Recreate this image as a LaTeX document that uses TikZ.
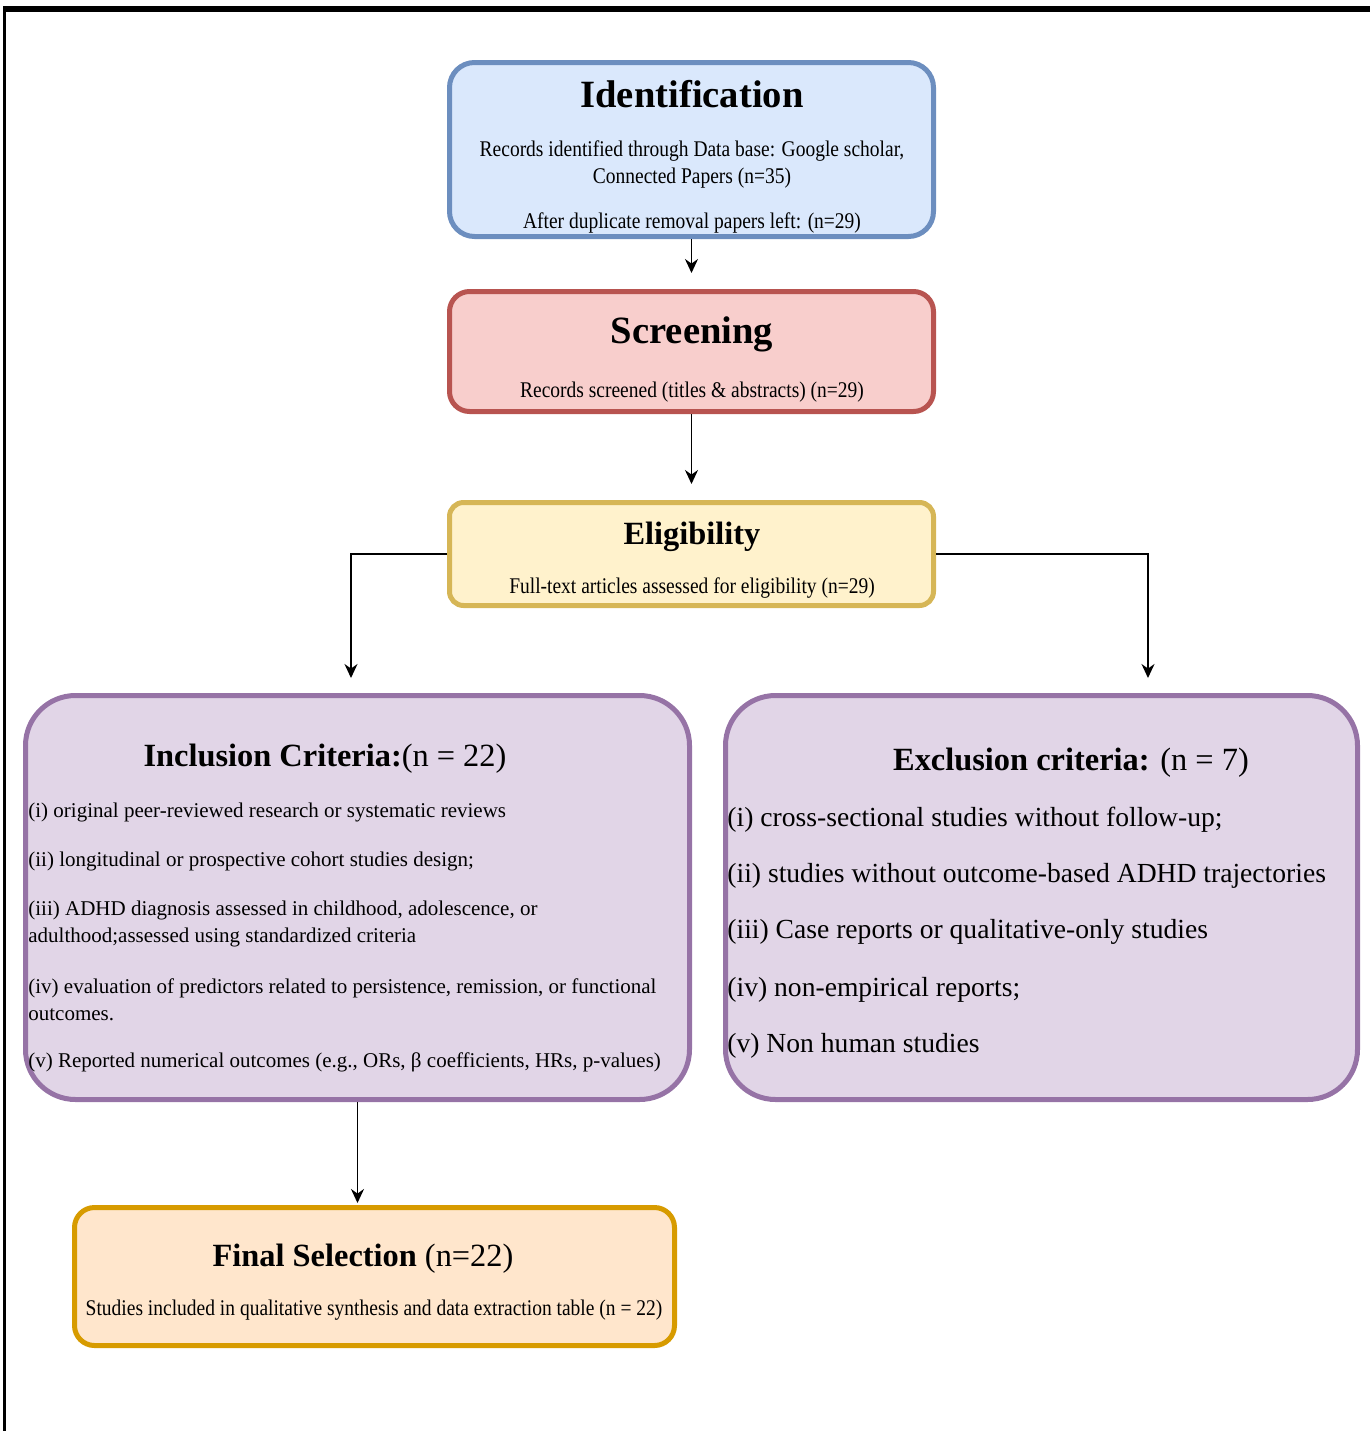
\documentclass[tikz,border=0pt]{standalone}
\usepackage{fontspec}
\setmainfont{Liberation Serif}
\newfontfamily\narrowfont{Liberation Serif}[FakeStretch=0.87]
\usetikzlibrary{arrows.meta,fit}
\definecolor{idfill}{HTML}{DAE8FC}
\definecolor{iddraw}{HTML}{6C8EBF}
\definecolor{scfill}{HTML}{F8CECC}
\definecolor{scdraw}{HTML}{B85450}
\definecolor{elfill}{HTML}{FFF2CC}
\definecolor{eldraw}{HTML}{D6B656}
\definecolor{crfill}{HTML}{E1D5E7}
\definecolor{crdraw}{HTML}{9673A6}
\definecolor{fsfill}{HTML}{FFE6CC}
\definecolor{fsdraw}{HTML}{D79B00}

\begin{document}
\begin{tikzpicture}[x=0.5pt, y=-0.5pt,
  stagebox/.style={draw, line width=2.5pt, inner sep=0pt, rounded corners=#1},
  stagebox/.default=10pt,
  bigtitle/.style={font=\fontsize{19.3}{23}\selectfont\bfseries, inner sep=0pt, yshift=-1.25pt},
  stagetitle/.style={font=\fontsize{16.2}{19}\selectfont, inner sep=0pt, yshift=-1.75pt},
  stagetext/.style={font=\narrowfont\fontsize{11.2}{13.5}\selectfont, inner sep=0pt, yshift=-1pt},
  inclitem/.style={font=\fontsize{10.5}{13.5}\selectfont, align=left, anchor=west, inner sep=0pt, yshift=-1pt},
  exclitem/.style={font=\fontsize{13.8}{16}\selectfont, anchor=west, inner sep=0pt, yshift=-1.5pt},
  arr/.style={-{Stealth[length=7pt,width=6.5pt]}, line width=0.8pt, shorten >=#1},
  arr/.default=0pt]
  \useasboundingbox (0,0) rectangle (1370,1431);
  \draw[line width=3pt] (3,9) -- (1370,9);
  \draw[line width=1.75pt] (4.5,6) -- (4.5,1431);

  \node[stagebox=12.5pt, fill=idfill, draw=iddraw, fit={(449.5,62.5) (933.5,236.5)}] (ident) {};
  \node[bigtitle] (identtitle) at (692,92) {Identification};
  \node[stagetext] (identdb) at (692,149) {Records identified through Data base: Google scholar,};
  \node[stagetext] (identcp) at (692,176) {Connected Papers (n=35)};
  \node[stagetext] (identdup) at (692,221) {After duplicate removal papers left: (n=29)};

  \node[stagebox, fill=scfill, draw=scdraw, fit={(449.5,291.5) (933.5,411.5)}] (screen) {};
  \node[bigtitle] (screentitle) at (692,332) {Screening};
  \node[stagetext] (screentext) at (692,390) {Records screened (titles \& abstracts) (n=29)};

  \node[stagebox=7pt, fill=elfill, draw=eldraw, fit={(449.5,502.5) (933.5,605.5)}] (elig) {};
  \node[stagetitle] (eligtitle) at (692,533) {\bfseries Eligibility};
  \node[stagetext] (eligtext) at (692,586) {Full-text articles assessed for eligibility (n=29)};

  \node[stagebox=25pt, fill=crfill, draw=crdraw, fit={(25.5,695.5) (689.5,1099.5)}] (incl) {};
  \node[stagetitle] (incltitle) at (325,755) {\textbf{Inclusion Criteria:}(n = 22)};
  \node[inclitem] (incl1) at (28,810) {(i) original peer-reviewed research or systematic reviews};
  \node[inclitem] (incl2) at (28,859) {(ii) longitudinal or prospective cohort studies design;};
  \node[inclitem] (incl3) at (28,921.5) {(iii) ADHD diagnosis assessed in childhood, adolescence, or\\adulthood;assessed using standardized criteria};
  \node[inclitem] (incl4) at (28,997.5) {(iv) evaluation of predictors related to persistence, remission, or functional\\outcomes.};
  \node[inclitem] (incl5) at (28,1060) {(v) Reported numerical outcomes (e.g., ORs, β coefficients, HRs, p-values)};

  \node[stagebox=25pt, fill=crfill, draw=crdraw, fit={(725.5,695.5) (1357.5,1099.5)}] (excl) {};
  \node[stagetitle] (excltitle) at (1071,759) {\textbf{Exclusion criteria:} (n = 7)};
  \node[exclitem] (excl1) at (727,817) {(i) cross-sectional studies without follow-up;};
  \node[exclitem] (excl2) at (727,873) {(ii) studies without outcome-based ADHD trajectories};
  \node[exclitem] (excl3) at (727,929) {(iii) Case reports or qualitative-only studies};
  \node[exclitem] (excl4) at (727,987) {(iv) non-empirical reports;};
  \node[exclitem] (excl5) at (727,1043) {(v) Non human studies};

  \node[stagebox, fill=fsfill, draw=fsdraw, fit={(74.5,1207.5) (674.5,1345.5)}] (fin) {};
  \node[stagetitle] (fintitle) at (363,1255) {\textbf{Final Selection} (n=22)};
  \node[stagetext] (fintext) at (374,1308) {Studies included in qualitative synthesis and data extraction table (n = 22)};

  \draw[arr=8pt] (ident) -- (screen);
  \draw[arr=8pt] (screen) -- (elig);
  \draw[arr=7.5pt] (elig.west) -| ([xshift=-3.25pt]incl.north);
  \draw[arr=7.5pt] (elig.east) -| ([xshift=53.25pt]excl.north);
  \draw[arr=1pt] (incl.south) -- (incl.south |- fin.north);
\end{tikzpicture}
\end{document}
